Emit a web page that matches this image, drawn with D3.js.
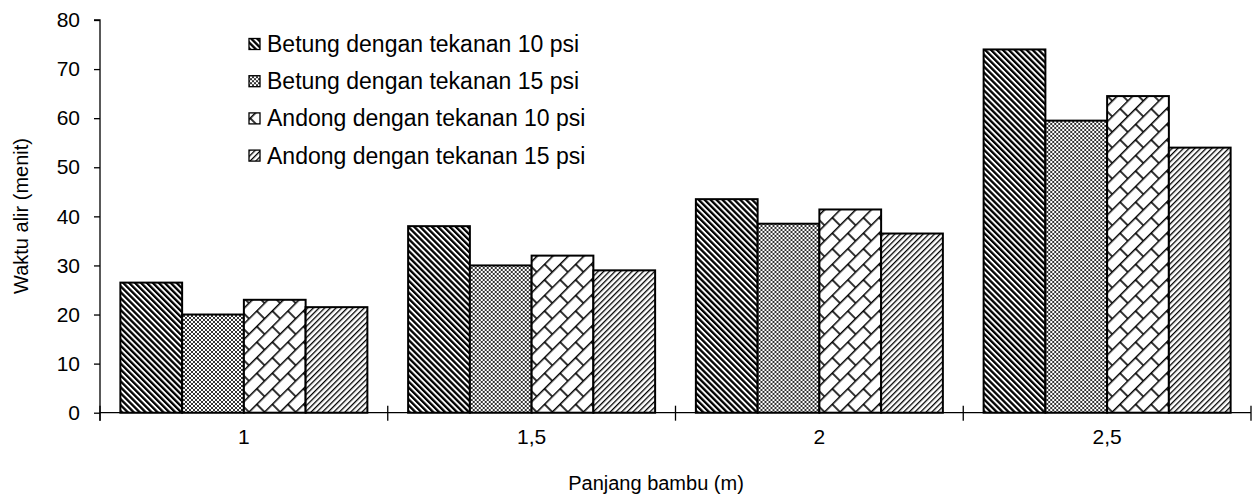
<!DOCTYPE html>
<html>
<head>
<meta charset="utf-8">
<script src="https://cdn.jsdelivr.net/npm/d3@7"></script>
<style>
  body { margin: 0; background: #fff; }
  svg text { font-family: Arial, "Liberation Sans", sans-serif; fill: #000; }
</style>
</head>
<body>
<div id="chart"></div>
<script>
const categories = ['1', '1,5', '2', '2,5'];
const seriesNames = [
  'Betung dengan tekanan 10 psi',
  'Betung dengan tekanan 15 psi',
  'Andong dengan tekanan 10 psi',
  'Andong dengan tekanan 15 psi',
];
const betung10 = [26.5, 38, 43.5, 74];
const betung15 = [20, 30, 38.5, 59.5];
const andong10 = [23, 32, 41.4, 64.5];
const andong15 = [21.5, 29, 36.5, 54];
const yTicks = [0, 10, 20, 30, 40, 50, 60, 70, 80];

const seriesValues = [betung10, betung15, andong10, andong15];
const patternIds = ['p-wide-down', 'p-grid', 'p-brick', 'p-up'];

const width = 1253;
const height = 495;
const margin = { top: 20, right: 2, bottom: 82, left: 100 };

const svg = d3.select('#chart')
  .append('svg')
  .attr('width', width)
  .attr('height', height);

// fill patterns (black & white hatching)
const defs = svg.append('defs');

const wideDown = defs.append('pattern')
  .attr('id', 'p-wide-down')
  .attr('patternUnits', 'userSpaceOnUse')
  .attr('width', 4.2)
  .attr('height', 4.2)
  .attr('patternTransform', 'rotate(-45)');
wideDown.append('rect').attr('width', 4.2).attr('height', 4.2).attr('fill', '#fff');
wideDown.append('rect').attr('width', 2.3).attr('height', 4.2).attr('fill', '#000');

const grid = defs.append('pattern')
  .attr('id', 'p-grid')
  .attr('patternUnits', 'userSpaceOnUse')
  .attr('width', 4)
  .attr('height', 4);
grid.append('rect').attr('width', 4).attr('height', 4).attr('fill', '#fff');
grid.append('path')
  .attr('d', 'M0,0L4,4M4,0L0,4M-2,2L2,-2M2,6L6,2')
  .attr('stroke', '#000')
  .attr('stroke-width', 0.8);

const brick = defs.append('pattern')
  .attr('id', 'p-brick')
  .attr('patternUnits', 'userSpaceOnUse')
  .attr('width', 22)
  .attr('height', 22)
  .attr('patternTransform', 'rotate(-45)');
brick.append('rect').attr('width', 22).attr('height', 22).attr('fill', '#fff');
brick.append('path')
  .attr('d', 'M0,0.75H22M0,11.75H22M1,0.75V11.75M12,11.75V22.75')
  .attr('stroke', '#000')
  .attr('stroke-width', 1.6)
  .attr('fill', 'none');

const up = defs.append('pattern')
  .attr('id', 'p-up')
  .attr('patternUnits', 'userSpaceOnUse')
  .attr('width', 4)
  .attr('height', 4)
  .attr('patternTransform', 'rotate(45)');
up.append('rect').attr('width', 4).attr('height', 4).attr('fill', '#fff');
up.append('rect').attr('width', 1.3).attr('height', 4).attr('fill', '#000');

const plotBottom = 412.7;
const plotRight = 1251;

const x0 = d3.scaleBand()
  .domain(categories)
  .range([margin.left, plotRight])
  .paddingInner(0)
  .paddingOuter(0);

const x1 = d3.scaleBand()
  .domain(d3.range(seriesNames.length))
  .range([0, x0.bandwidth()])
  .paddingInner(0)
  .paddingOuter(0.33);

const y = d3.scaleLinear()
  .domain([0, 80])
  .range([plotBottom, margin.top]);

// bars
const groups = svg.append('g')
  .selectAll('g')
  .data(categories)
  .enter()
  .append('g')
  .attr('transform', (d) => `translate(${x0(d)},0)`);

groups.selectAll('rect')
  .data((d, i) => seriesValues.map((vals, s) => ({ s, v: vals[i] })))
  .enter()
  .append('rect')
  .attr('x', (d) => x1(d.s))
  .attr('y', (d) => y(d.v))
  .attr('width', x1.bandwidth())
  .attr('height', (d) => plotBottom - y(d.v))
  .attr('fill', (d) => `url(#${patternIds[d.s]})`)
  .attr('stroke', '#000')
  .attr('stroke-width', 2);

// y axis
const yAxis = d3.axisLeft(y)
  .tickValues(yTicks)
  .tickSize(6)
  .tickPadding(14)
  .tickFormat(d3.format('d'));

svg.append('g')
  .attr('class', 'y-axis')
  .attr('transform', `translate(${margin.left},0)`)
  .call(yAxis)
  .call((g) => g.select('.domain').attr('d', `M-6,${margin.top}H0V${plotBottom + 8}`).attr('stroke-width', 1.3))
  .call((g) => g.selectAll('line').attr('stroke-width', 1.3))
  .call((g) => g.selectAll('text').attr('font-size', 21));

// x axis: category labels
svg.append('g')
  .attr('class', 'x-axis')
  .attr('transform', `translate(0,${plotBottom})`)
  .call(d3.axisBottom(x0).tickSize(0).tickPadding(16))
  .call((g) => g.select('.domain').attr('d', `M${margin.left},0H${plotRight}`).attr('stroke-width', 1.3))
  .call((g) => g.selectAll('text').attr('font-size', 21));

// x axis: boundary ticks crossing the line
const boundaries = [...categories.map((c) => x0(c)), plotRight];
svg.append('g')
  .attr('class', 'x-bounds')
  .selectAll('line')
  .data(boundaries)
  .enter()
  .append('line')
  .attr('x1', (d) => d)
  .attr('x2', (d) => d)
  .attr('y1', plotBottom - 7)
  .attr('y2', plotBottom + 8)
  .attr('stroke', '#000')
  .attr('stroke-width', 1.3);

// axis titles
svg.append('text')
  .attr('x', 656)
  .attr('y', 490)
  .attr('text-anchor', 'middle')
  .attr('font-size', 20)
  .text('Panjang bambu (m)');

svg.append('text')
  .attr('transform', 'translate(28,216) rotate(-90)')
  .attr('text-anchor', 'middle')
  .attr('font-size', 20)
  .text('Waktu alir (menit)');

// legend
const legend = svg.append('g')
  .attr('class', 'legend')
  .attr('transform', 'translate(249,44)');

const legendItem = legend.selectAll('g')
  .data(seriesNames)
  .enter()
  .append('g')
  .attr('transform', (_, i) => `translate(0,${i * 37.2})`);

legendItem.append('rect')
  .attr('x', 0)
  .attr('y', -5.5)
  .attr('width', 11)
  .attr('height', 11)
  .attr('fill', (_, i) => `url(#${patternIds[i]})`)
  .attr('stroke', '#000')
  .attr('stroke-width', 1.3);

legendItem.append('text')
  .attr('x', 18)
  .attr('y', 8)
  .attr('font-size', 23)
  .text((d) => d);
</script>
</body>
</html>
